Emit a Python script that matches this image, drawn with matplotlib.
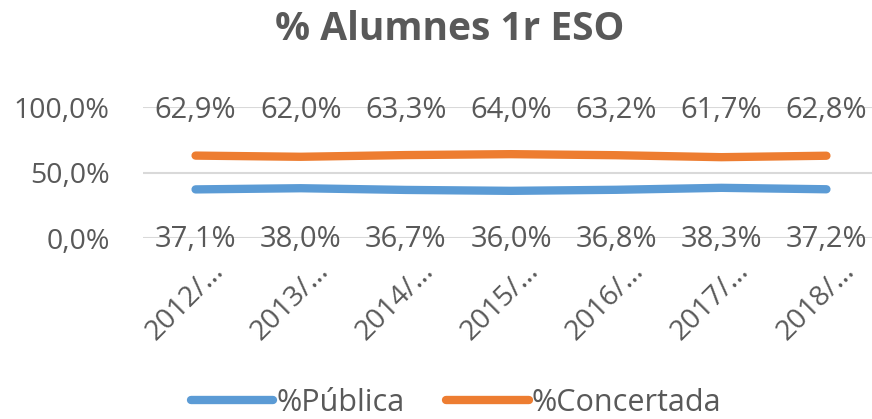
import matplotlib.pyplot as plt
import matplotlib.transforms as mtransforms

# Data
years = ["2012/…", "2013/…", "2014/…", "2015/…", "2016/…", "2017/…", "2018/…"]
publica = [37.1, 38.0, 36.7, 36.0, 36.8, 38.3, 37.2]
concertada = [62.9, 62.0, 63.3, 64.0, 63.2, 61.7, 62.8]

blue = "#5B9BD5"
orange = "#ED7D31"
grey = "#595959"

plt.rcParams['font.family'] = ['Open Sans', 'DejaVu Sans']

fig = plt.figure(figsize=(8.72, 4.19), dpi=100)
ax = fig.add_axes([143 / 872, 181 / 419, 736 / 872, 131 / 419])

x = list(range(len(years)))
ax.plot(x, publica, color=blue, lw=6, solid_capstyle='round', label='%Pública')
ax.plot(x, concertada, color=orange, lw=6, solid_capstyle='round', label='%Concertada')

ax.set_xlim(-0.5, len(years) - 0.5)
ax.set_ylim(0, 100)
ax.set_yticks([0, 50, 100])
ax.set_yticklabels(["0,0%", "50,0%", "100,0%"])
ax.grid(True, axis='y', color='#D9D9D9', lw=1.5)
ax.set_axisbelow(True)
for s in ax.spines.values():
    s.set_visible(False)
ax.tick_params(axis='y', length=0, pad=24, labelsize=20.5, labelcolor=grey)
ax.tick_params(axis='x', length=0, pad=14, labelsize=20.5, labelcolor=grey)

ax.set_xticks(x)
ax.set_xticklabels(years, rotation=45, ha='right', rotation_mode='anchor')
offset = mtransforms.ScaledTranslation(14 / 100, 0, fig.dpi_scale_trans)
for lbl in ax.get_xticklabels():
    lbl.set_transform(lbl.get_transform() + offset)

# data labels: concertada on top line, pública on bottom line
trans = ax.get_xaxis_transform()
for xi, v in zip(x, concertada):
    ax.text(xi, 0.97, f"{v:.1f}%".replace('.', ','), transform=trans,
            ha='center', va='center', fontsize=21, color=grey, clip_on=False)
for xi, v in zip(x, publica):
    ax.text(xi, -0.01, f"{v:.1f}%".replace('.', ','), transform=trans,
            ha='center', va='center', fontsize=21, color=grey, clip_on=False)

fig.text(450 / 872, 1 - 30 / 419, "% Alumnes 1r ESO", ha='center', va='center',
         fontsize=28, fontweight='bold', color=grey)

fig.legend(loc='center', bbox_to_anchor=(456 / 872, 1 - 403 / 419), ncol=2,
           frameon=False, fontsize=22, labelcolor=grey, handlelength=2.7,
           handletextpad=0.1, columnspacing=1.37, borderpad=0, borderaxespad=0)

fig.savefig("out.png", dpi=100)
